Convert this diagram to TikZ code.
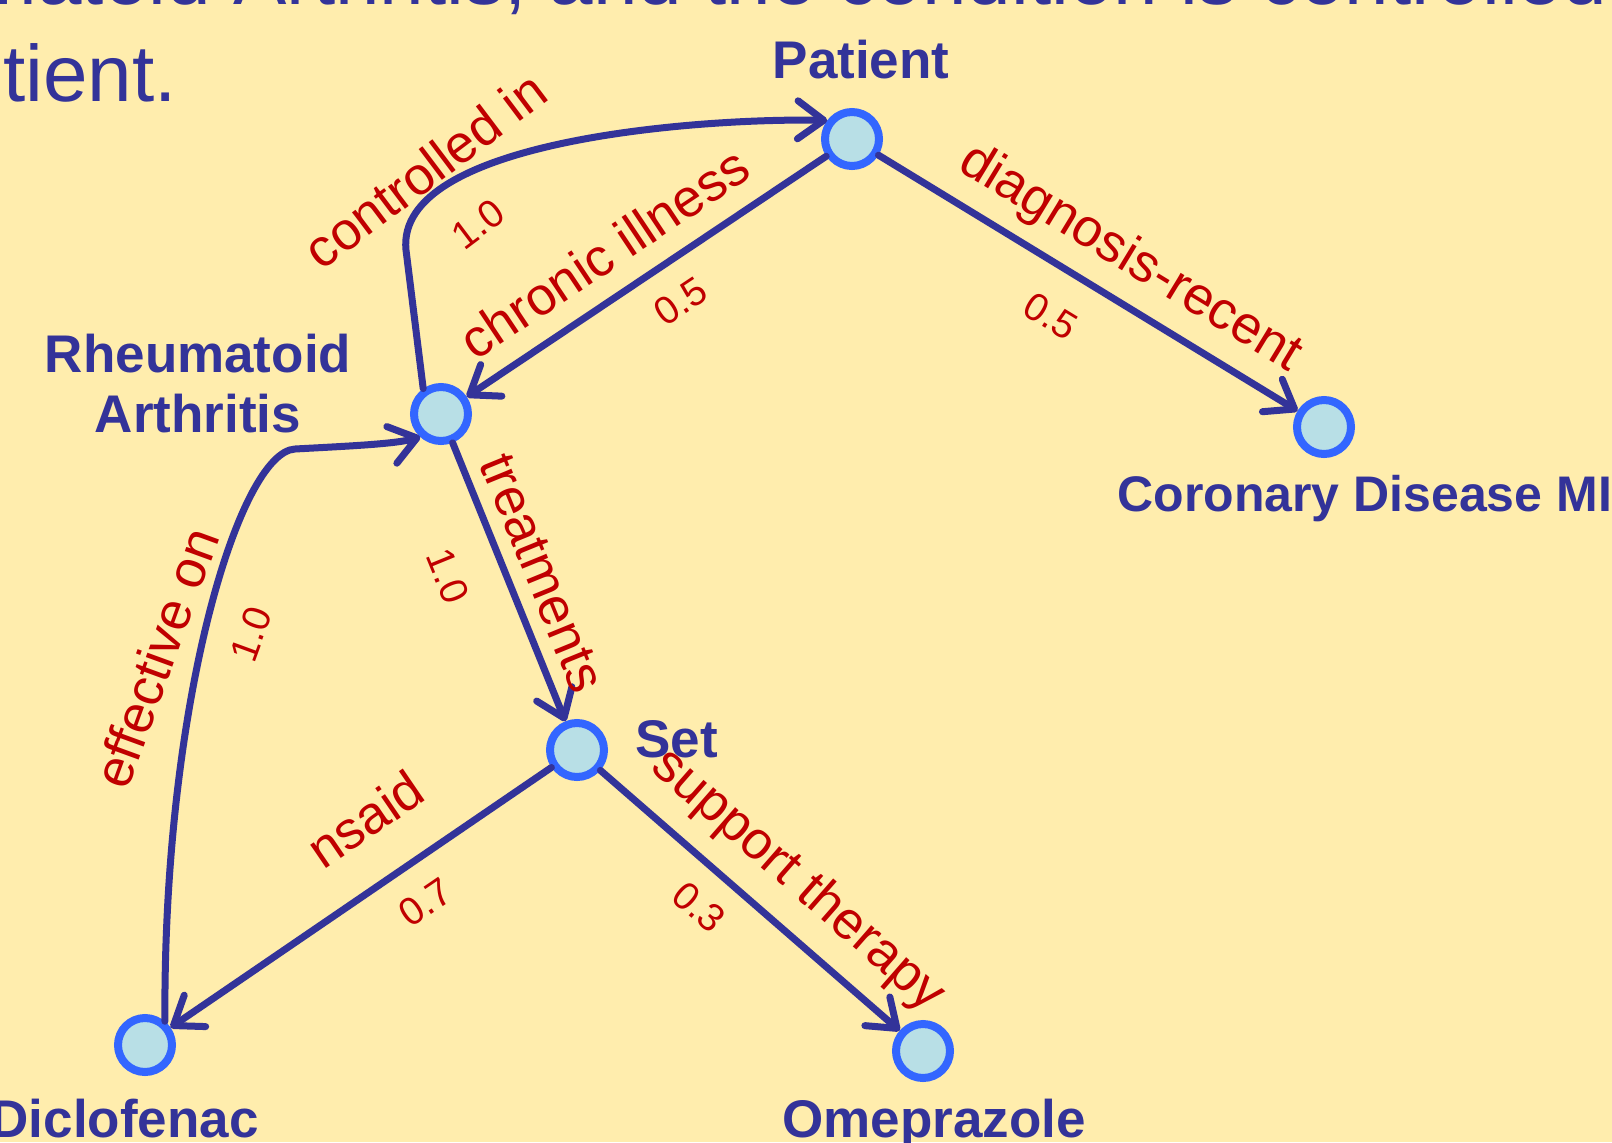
\documentclass[tikz,border=0pt]{standalone}
\usepackage{fontspec}
\setmainfont{Liberation Sans}
\usetikzlibrary{arrows.meta}
\definecolor{bg}{HTML}{FFEDAD}
\definecolor{navy}{HTML}{333399}
\definecolor{lred}{HTML}{C00000}
\definecolor{cfill}{HTML}{B8DFE6}
\definecolor{cborder}{HTML}{3366FF}
\begin{document}
\begin{tikzpicture}[x=0.5pt,y=-0.5pt,
  vert/.style={circle, fill=cfill, draw=cborder, line width=4pt, minimum size=27pt, inner sep=0pt},
  lbl/.style={text=navy, font=\fontsize{26.5}{30}\selectfont\bfseries, inner sep=0pt},
  rel/.style={text=lred, font=\fontsize{26.6}{30}\selectfont, inner sep=0pt},
  wt/.style={text=lred, font=\fontsize{19.5}{22}\selectfont, inner sep=0pt},
  ttl/.style={text=navy, font=\fontsize{40}{46}\selectfont, inner sep=0pt},
  edge/.style={draw=navy, line width=3.5pt, line cap=round, line join=round,
    -{Straight Barb[length=13pt,width=19pt,line cap=round,line join=round]}},
]
\fill[bg] (0,0) rectangle (1612,1142);
\useasboundingbox (0,0) rectangle (1612,1142);
\clip (0,0) rectangle (1612,1142);

% title fragments
\node[ttl, anchor=base east] (t1) at (527,4) {Rheumatoid Arthritis,\rlap{ and the condition is controlled in the}};
\node[ttl, anchor=base west] (t2) at (3,101) {tient.};

% vertices
\node[vert] (pat) at (852,139) {};
\node[vert] (ra) at (441,414) {};
\node[vert] (cor) at (1324,427) {};
\node[vert] (set) at (577,750) {};
\node[vert] (dic) at (145,1045) {};
\node[vert] (ome) at (923,1051) {};

% vertex labels
\node[lbl, anchor=base] (patl) at (861,78) {Patient};
\node[lbl, anchor=base, align=center] (ral) at (198,432) {Rheumatoid\\Arthritis};
\node[lbl, anchor=base west, font=\fontsize{25}{30}\selectfont\bfseries] (corl) at (1117,511) {Coronary Disease MI};
\node[lbl, anchor=base west] (setl) at (635,757) {Set};
\node[lbl, anchor=base east] (dicl) at (259,1137) {Diclofenac};
\node[lbl, anchor=base] (omel) at (934,1137) {Omeprazole};

% connectors
\draw[edge] (ra.125) -- (406,250) .. controls (395,140) and (700,118) .. (pat.143);
\draw[edge] (dic.50) .. controls (163,700) and (240,452) .. (295,449) .. controls (350,446) and (395,444) .. (ra.228);
\draw[edge] (pat) -- (ra);
\draw[edge] (pat) -- (cor);
\draw[edge] (ra) -- (set);
\draw[edge] (set) -- (dic);
\draw[edge] (set) -- (ome);

% connector labels
\node[rel, rotate=37] (l1) at (425,170) {controlled in};
\node[wt, rotate=37] (w1) at (478,224) {1.0};
\node[rel, rotate=33.7] (l2) at (604,253) {chronic illness};
\node[wt, rotate=33.7] (w2) at (681,301) {0.5};
\node[rel, rotate=-31.3] (l3) at (1130,259) {diagnosis-recent};
\node[wt, rotate=-31.3] (w3) at (1051,316) {0.5};
\node[rel, rotate=-67.8] (l4) at (542,573) {treatments};
\node[wt, rotate=-67.8] (w4) at (448,576) {1.0};
\node[rel, rotate=70] (l5) at (156,658) {effective on};
\node[wt, rotate=70] (w5) at (251,634) {1.0};
\node[rel, rotate=34.3] (l6) at (365,819) {nsaid};
\node[wt, rotate=34.3] (w6) at (425,902) {0.7};
\node[rel, rotate=-41.2] (l7) at (798,881) {support therapy};
\node[wt, rotate=-41.2] (w7) at (699,907) {0.3};
\end{tikzpicture}
\end{document}
